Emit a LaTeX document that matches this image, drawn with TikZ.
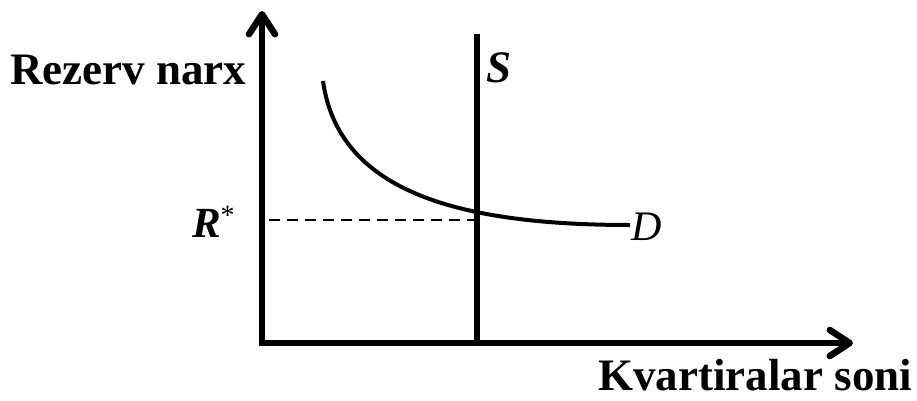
\documentclass[tikz,border=0pt]{standalone}
\usepackage{fontspec}
\setmainfont{Liberation Serif}
\usetikzlibrary{arrows.meta}
\tikzset{tipbarb/.tip={Straight Barb[length=20pt,width=26pt,line cap=round,line join=round]}}
\begin{document}
\begin{tikzpicture}[x=1pt,y=-1pt,
  axis/.style={line width=6.5pt,line join=miter},
  lbl/.style={inner sep=0pt,outer sep=0pt},
  curveline/.style={line width=4pt},
  guide/.style={line width=2.6pt,dash pattern=on 11pt off 7pt}]
\useasboundingbox (0,0) rectangle (917,401);
\coordinate (O) at (262,343);
\coordinate (ytip) at (262,11);
\coordinate (xtip) at (853,343);
\coordinate (Stop) at (477,34);
\coordinate (Sbot) at (477,343);
\coordinate (Dstart) at (323,81);
\coordinate (Dend) at (630,225);
\coordinate (Rleft) at (269,220);
\coordinate (Rright) at (477,220);
% axes
\draw[axis,tipbarb-tipbarb] (ytip) -- (O) -- (xtip);
% supply line
\draw[line width=6pt] (Stop) -- (Sbot);
% demand curve
\draw[curveline] (Dstart) .. controls (338,188) and (450,225) .. (Dend);
% dashed guide
\draw[guide] (Rleft) -- (Rright);
% labels
\node[lbl,anchor=base west] (ylab) at (10,85) {\fontsize{45}{54}\selectfont\bfseries Rezerv narx};
\node[lbl,anchor=base east] (xlab) at (912,390) {\fontsize{45}{54}\selectfont\bfseries Kvartiralar soni};
\node[lbl,anchor=base west] (Slab) at (486,83) {\fontsize{45}{54}\selectfont\bfseries\itshape S};
\node[lbl,anchor=base west] (Dlab) at (631,240) {\fontsize{42}{50}\selectfont\itshape D};
\node[lbl,anchor=base west] (Rlab) at (192,237) {\fontsize{43}{50}\selectfont\bfseries\itshape R\raisebox{13pt}{\fontsize{28}{28}\selectfont\mdseries\upshape *}};
\end{tikzpicture}
\end{document}
